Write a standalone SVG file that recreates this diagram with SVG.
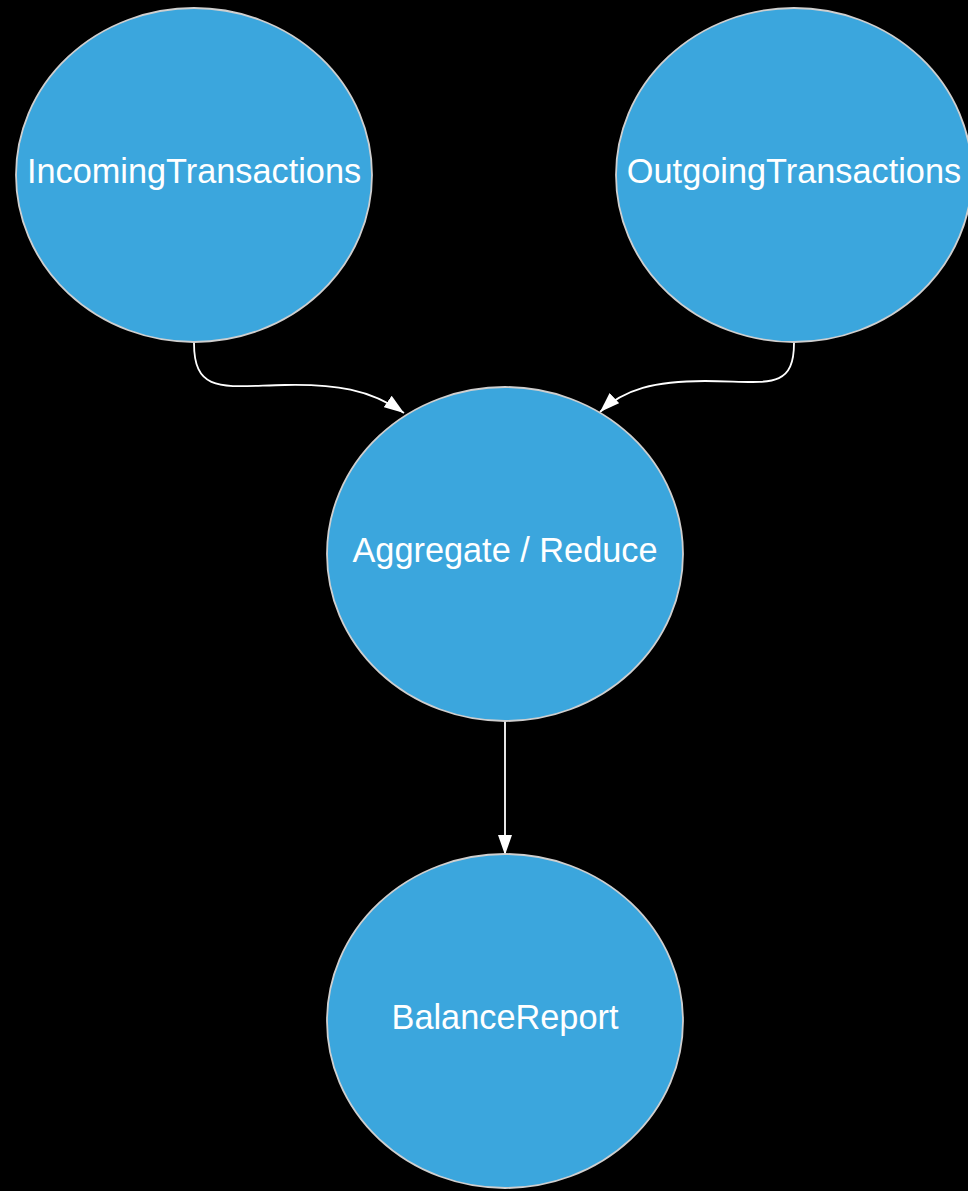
<svg xmlns="http://www.w3.org/2000/svg" width="968" height="1191" viewBox="0 0 968 1191">
  <style>
    .node { fill: #3ba6dd; stroke: #cfcfcf; stroke-width: 1.8; }
    .label { fill: #ffffff; font-family: "Liberation Sans", Arial, sans-serif; font-size: 34.3px; text-anchor: middle; }
    .edge { fill: none; stroke: #ffffff; stroke-width: 1.8; }
  </style>
  <defs>
    <marker id="arrow" viewBox="0 0 20 14" refX="20" refY="7" markerWidth="20" markerHeight="14" markerUnits="userSpaceOnUse" orient="auto">
      <path d="M0,0 L20,7 L0,14 Z" fill="#ffffff"/>
    </marker>
  </defs>
  <rect width="968" height="1191" fill="#000000"/>

  <g id="connectors">
    <path class="edge" d="M194,343 C194,395 225,386 285,385 C335,384 370,389 404,413" marker-end="url(#arrow)"/>
    <path class="edge" d="M794,343 C794,392 765,381 705,381 C655,381 624,389 600,412" marker-end="url(#arrow)"/>
    <path class="edge" d="M505,721 L505,855" marker-end="url(#arrow)"/>
  </g>

  <g id="incoming-transactions">
    <ellipse class="node" cx="194" cy="175" rx="178" ry="167"/>
    <text class="label" x="194" y="183">IncomingTransactions</text>
  </g>

  <g id="outgoing-transactions">
    <ellipse class="node" cx="794" cy="175" rx="178" ry="167"/>
    <text class="label" x="794" y="183">OutgoingTransactions</text>
  </g>

  <g id="aggregate-reduce">
    <ellipse class="node" cx="505" cy="554" rx="178" ry="167"/>
    <text class="label" x="505" y="562">Aggregate / Reduce</text>
  </g>

  <g id="balance-report">
    <ellipse class="node" cx="505" cy="1021" rx="178" ry="167"/>
    <text class="label" x="505" y="1029">BalanceReport</text>
  </g>
</svg>
